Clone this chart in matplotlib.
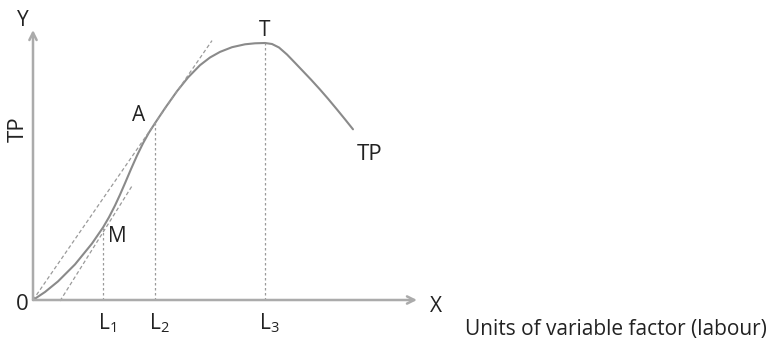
import matplotlib
matplotlib.use("Agg")
import matplotlib.pyplot as plt

plt.rcParams["font.family"] = ["Open Sans", "DejaVu Sans"]

# total product curve (labour units, output units)
tp_x = [0, 1.2, 2.5, 4.2, 5.9, 7.0, 7.6, 8.2, 8.7, 9.2, 9.8, 10.4, 11.0, 11.6,
        12.2, 13.2, 14.4, 15.5, 16.7, 17.7, 18.7, 19.9, 21.2, 22.2, 23.2,
        23.9, 24.6, 25.4, 26.2, 27.0, 27.8, 28.7, 29.5, 30.4, 31.2, 32.0]
tp_y = [0, 0.8, 1.86, 3.56, 5.65, 7.25, 8.28, 9.45, 10.53, 11.68, 13.09,
        14.44, 15.67, 16.75, 17.68, 19.18, 20.88, 22.25, 23.48, 24.25, 24.81,
        25.28, 25.57, 25.67, 25.7, 25.6, 25.25, 24.55, 23.72, 22.88, 22.04,
        21.05, 20.13, 19.05, 18.07, 17.07]

# ray from origin tangent at A, and tangent at the inflection point M
ray_x = [0, 17.9]
ray_y = [0, 25.94]
tan_x = [2.7, 9.9]
tan_y = [-0.1, 11.4]

# points M, A, T and their labour levels
pt_names = ["M", "A", "T"]
pt_x = [7.0, 12.2, 23.2]
pt_y = [7.25, 17.68, 25.7]
l_labels = ["$\\mathregular{L_1}$", "$\\mathregular{L_2}$", "$\\mathregular{L_3}$"]

x_end = 38.4
y_end = 27.0

axis_col = "#ababab"
curve_col = "#8a8a8a"
dash_col = "#9a9a9a"
txt_col = "#222222"

fig = plt.figure(figsize=(7.71, 3.43), dpi=100)
ax = fig.add_axes([0, 0, 1, 1])
ax.set_xlim(-3.3, 73.8)
ax.set_ylim(-4.3, 30.0)
ax.axis("off")

# axes with open arrow heads
ax.annotate("", xy=(0, y_end), xytext=(0, 0),
            arrowprops=dict(arrowstyle="->", color=axis_col, lw=1.8,
                            shrinkA=0, shrinkB=0, mutation_scale=13))
ax.annotate("", xy=(x_end, 0), xytext=(0, 0),
            arrowprops=dict(arrowstyle="->", color=axis_col, lw=1.8,
                            shrinkA=0, shrinkB=0, mutation_scale=13))

ax.plot(tp_x, tp_y, color=curve_col, lw=1.5, solid_joinstyle="round",
        solid_capstyle="round")
ax.plot(ray_x, ray_y, color=dash_col, lw=0.9, ls=(0, (3, 2)))
ax.plot(tan_x, tan_y, color=dash_col, lw=0.9, ls=(0, (3, 2)))

for px, py in zip(pt_x, pt_y):
    ax.plot([px, px], [0, py], color=dash_col, lw=0.9, ls=(0, (2, 2)))

fs = 15
ax.text(-1.0, 27.9, "Y", fontsize=fs, color=txt_col, ha="center", va="center")
ax.text(-1.5, 17.1, "TP", fontsize=16, color=txt_col, ha="center", va="center",
        rotation=90)
ax.text(-1.1, -0.5, "0", fontsize=16, color=txt_col, ha="center", va="center")
ax.text(40.3, -0.6, "X", fontsize=fs, color=txt_col, ha="center", va="center")

label_dx = [1.4, -1.6, 0]
label_dy = [-0.9, 0.8, 1.2]
for name, px, py, dx, dy in zip(pt_names, pt_x, pt_y, label_dx, label_dy):
    ax.text(px + dx, py + dy, name, fontsize=fs, color=txt_col,
            ha="center", va="center")

ax.text(33.7, 14.6, "TP", fontsize=16, color=txt_col, ha="center", va="center")

for px, lab in zip(pt_x, l_labels):
    ax.text(px + 0.4, -2.3, lab, fontsize=fs, color=txt_col,
            ha="center", va="center")

ax.text(43.2, -2.9, "Units of variable factor (labour)", fontsize=15,
        color=txt_col, ha="left", va="center")

fig.savefig("out.png", dpi=100)
plt.close(fig)
